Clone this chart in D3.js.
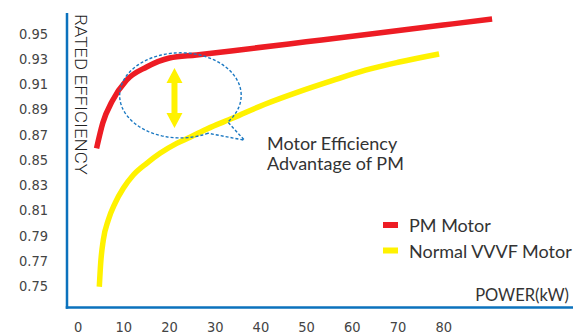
<!DOCTYPE html>
<html>
<head>
<meta charset="utf-8">
<script src="https://cdn.jsdelivr.net/npm/d3@7"></script>
<style>
  html, body { margin: 0; padding: 0; background: #fff; }
  svg { display: block; }
</style>
</head>
<body>
<svg id="chart" width="573" height="335"></svg>
<script>
// ---- data ----
const xTicks = [0, 10, 20, 30, 40, 50, 60, 70, 80];
const yTicks = [0.75, 0.77, 0.79, 0.81, 0.83, 0.85, 0.87, 0.89, 0.91, 0.93, 0.95];
const pmPower = [4.15, 5.5, 7.65, 10.7, 15.1, 20.1, 26, 35.4, 50, 65, 80, 90.7];
const pmEff   = [0.859, 0.879, 0.897, 0.913, 0.9235, 0.9306, 0.933, 0.937, 0.9434, 0.950, 0.9567, 0.9615];
const vvvfPower = [4.75, 5.05, 5.62, 6.72, 8.18, 10, 12.19, 15.12, 18.03, 21.68, 24.6, 28.3, 34, 41, 48.5, 55.7, 63, 70.4, 79.1];
const vvvfEff   = [0.7494, 0.768, 0.7864, 0.8023, 0.8155, 0.8274, 0.8379, 0.8472, 0.8551, 0.863, 0.8678, 0.8744, 0.883, 0.894, 0.904, 0.9127, 0.921, 0.9274, 0.9338];
const seriesNames = ["PM Motor", "Normal VVVF Motor"];
const yTitle = "RATED EFFICIENCY";
const xTitle = "POWER(kW)";
const noteLines = ["Motor Efficiency", "Advantage of PM"];
// annotation (data units)
const bubbleCenter = [22.5, 0.901];
const bubbleRadii = [13.3, 0.0337];
const bubbleTip = [36.5, 0.8655];
const arrowPower = 21.2;
const arrowRange = [0.8751, 0.9227];

// ---- layout ----
const svg = d3.select("#chart");
const x = d3.scaleLinear().domain([0, 80]).range([77.6, 443.2]);
const y = d3.scaleLinear().domain([0.75, 0.95]).range([286, 33.5]);
const axisX = 67, axisY = 307.5;
const red = "#ed1c24", yellow = "#fff200", blue = "#0b72bd", dashBlue = "#1a78c2";
const tickFont = "'Liberation Sans Narrow', 'DejaVu Sans Condensed', 'Roboto', sans-serif";
const textFont = "Lato, 'Open Sans', sans-serif";

// y axis ticks (labels only)
const gy = svg.append("g").attr("transform", `translate(${axisX},0)`)
  .call(d3.axisLeft(y).tickValues(yTicks).tickSize(0).tickPadding(19).tickFormat(d3.format(".2f")));
gy.select(".domain").remove();
gy.selectAll("text").attr("font-family", tickFont).attr("font-size", 14.5).attr("fill", "#444");

// x axis ticks (labels only)
const gx = svg.append("g").attr("transform", `translate(0,${axisY})`)
  .call(d3.axisBottom(x).tickValues(xTicks).tickSize(0).tickPadding(14).tickFormat(d3.format("d")));
gx.select(".domain").remove();
gx.selectAll("text").attr("font-family", tickFont).attr("font-size", 14.5).attr("fill", "#444");

// axis lines
svg.append("line").attr("x1", axisX).attr("x2", axisX).attr("y1", 13).attr("y2", axisY + 1.25)
  .attr("stroke", blue).attr("stroke-width", 2.5);
svg.append("line").attr("x1", axisX - 1.25).attr("x2", 573).attr("y1", axisY).attr("y2", axisY)
  .attr("stroke", blue).attr("stroke-width", 2.5);

// axis titles
svg.append("text")
  .attr("transform", `translate(75,14) rotate(90)`)
  .attr("font-family", "Roboto, sans-serif").attr("font-weight", 300)
  .attr("font-size", 16.5).attr("fill", "#222")
  .attr("textLength", 161).attr("lengthAdjust", "spacingAndGlyphs")
  .text(yTitle);
svg.append("text")
  .attr("x", 569).attr("y", 301).attr("text-anchor", "end")
  .attr("font-family", textFont).attr("font-size", 16.5).attr("fill", "#333")
  .text(xTitle);

// lines
const line = d3.line().x(d => x(d[0])).y(d => y(d[1])).curve(d3.curveMonotoneX);
const vvvf = vvvfPower.map((p, i) => [p, vvvfEff[i]]);
const pm = pmPower.map((p, i) => [p, pmEff[i]]);
svg.append("path").datum(vvvf).attr("d", line).attr("fill", "none")
  .attr("stroke", yellow).attr("stroke-width", 5.5);
svg.append("path").datum(pm).attr("d", line).attr("fill", "none")
  .attr("stroke", red).attr("stroke-width", 5.5);

// speech bubble
const cx = x(bubbleCenter[0]), cy = y(bubbleCenter[1]);
const rx = x(bubbleCenter[0] + bubbleRadii[0]) - cx;
const ry = y(bubbleCenter[1] - bubbleRadii[1]) - cy;
const a0 = 63 * Math.PI / 180, a1 = (360 + 38.8) * Math.PI / 180;
const pts = d3.range(0, 121).map(i => {
  const a = a0 + (a1 - a0) * i / 120;
  return [cx + rx * Math.cos(a), cy + ry * Math.sin(a)];
});
pts.push([x(bubbleTip[0]), y(bubbleTip[1])]);
svg.append("path").attr("d", d3.line()(pts) + "Z")
  .attr("fill", "none").attr("stroke", dashBlue).attr("stroke-width", 1.4)
  .attr("stroke-dasharray", "3,2");

// double arrow
const ax = x(arrowPower), aTop = y(arrowRange[1]), aBot = y(arrowRange[0]);
const hw = 8, sw = 3, hl = 15;
const arrowPts = [
  [ax, aTop], [ax + hw, aTop + hl], [ax + sw, aTop + hl], [ax + sw, aBot - hl], [ax + hw, aBot - hl],
  [ax, aBot], [ax - hw, aBot - hl], [ax - sw, aBot - hl], [ax - sw, aTop + hl], [ax - hw, aTop + hl]
];
svg.append("path").attr("d", d3.line()(arrowPts) + "Z").attr("fill", yellow);

// note text
svg.append("g").selectAll("text").data(noteLines).join("text")
  .attr("x", 267).attr("y", (d, i) => 150 + i * 20)
  .attr("font-family", textFont).attr("font-size", 18).attr("fill", "#333")
  .text(d => d);

// legend
const colors = [red, yellow];
const lg = svg.append("g").selectAll("g").data(seriesNames).join("g")
  .attr("transform", (d, i) => `translate(383,${222 + i * 25.5})`);
lg.append("rect").attr("width", 15).attr("height", 6).attr("fill", (d, i) => colors[i]);
lg.append("text").attr("x", 26).attr("y", 10).attr("font-family", textFont)
  .attr("font-size", 18).attr("fill", "#333").text(d => d);
</script>
</body>
</html>
